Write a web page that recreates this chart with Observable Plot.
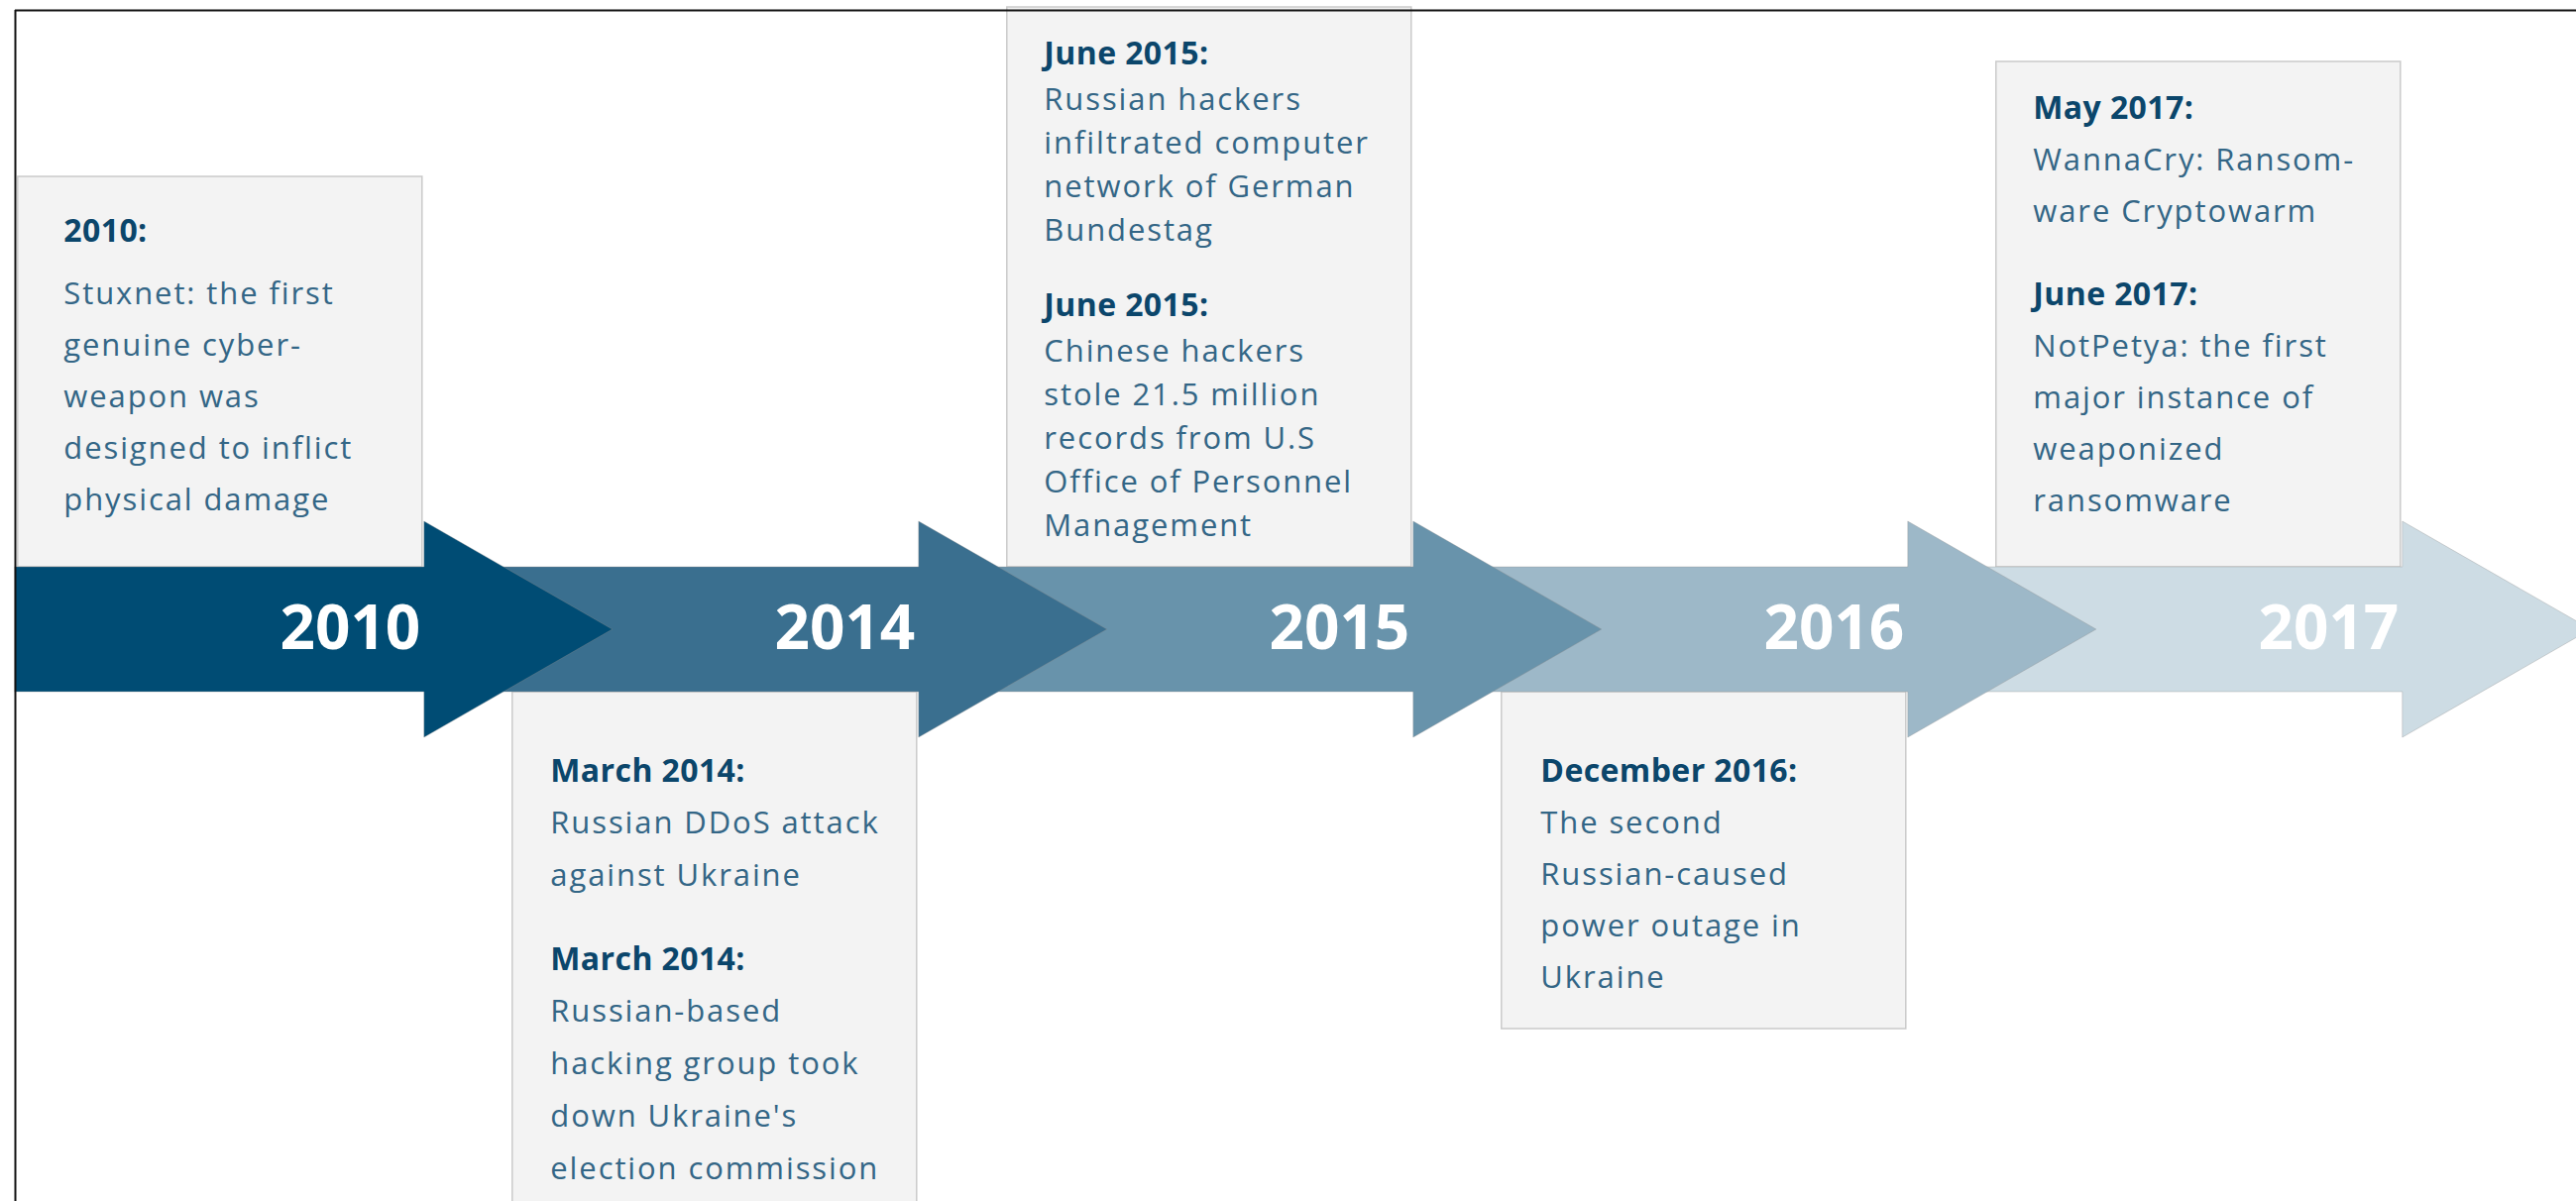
<!DOCTYPE html>
<html>
<head>
<meta charset="utf-8">
<script src="https://cdn.jsdelivr.net/npm/d3@7"></script>
<script src="https://cdn.jsdelivr.net/npm/@observablehq/plot@0.6"></script>
<style>
  html, body { margin: 0; padding: 0; background: #ffffff; overflow: hidden; }
  #chart svg { display: block; }
  #chart g[font-size="31"] text { letter-spacing: 1.9px; }
  #chart g[font-size="32"] text { letter-spacing: 0.4px; }
</style>
</head>
<body>
<div id="chart"></div>
<script>
// ---------- data ----------
const years = ["2010", "2014", "2015", "2016", "2017"];
const boxSide = ["above", "below", "above", "below", "above"];

const eventYear = ["2010", "2014", "2014", "2015", "2015", "2016", "2017", "2017"];
const eventHead = ["2010:", "March 2014:", "March 2014:", "June 2015:", "June 2015:", "December 2016:", "May 2017:", "June 2017:"];
const eventBody = [
  "Stuxnet: the first\ngenuine cyber-\nweapon was\ndesigned to inflict\nphysical damage",
  "Russian DDoS attack\nagainst Ukraine",
  "Russian-based\nhacking group took\ndown Ukraine's\nelection commission",
  "Russian hackers\ninfiltrated computer\nnetwork of German\nBundestag",
  "Chinese hackers\nstole 21.5 million\nrecords from U.S\nOffice of Personnel\nManagement",
  "The second\nRussian-caused\npower outage in\nUkraine",
  "WannaCry: Ransom-\nware Cryptowarm",
  "NotPetya: the first\nmajor instance of\nweaponized\nransomware"
];

// ---------- layout (geometry & style, not data) ----------
const W = 2599, H = 1212;
const U = 499;                       // pixels per timeline step
const xDomain = [71.2 / U, (W + 71.2) / U];
const yDomain = [-(H - 635), 635];   // vertical units = px above the centre line
const frameX = (15 + 71.2) / U;
const frameY = 625;
const bandHalf = 63, headHalf = 109;
const headLen = 190 / U;
const boxW = 408 / U, boxGap = 2 / U;
const paraExtra = 32;
const boxLayout = {
  "2010": {lh: 52, headStep: 63, padTop: 65, padBottom: 58, padLeft: 46},
  "2014": {lh: 53, headStep: 52, padTop: 90, padBottom: 70, padLeft: 38},
  "2015": {lh: 44, headStep: 46, padTop: 57, padBottom: 32, padLeft: 37},
  "2016": {lh: 52, headStep: 52, padTop: 90, padBottom: 42, padLeft: 39},
  "2017": {lh: 52, headStep: 52, padTop: 57, padBottom: 57, padLeft: 37}
};
const palette = ["#004c74", "#3a6f8f", "#6893ab", "#9db8c8", "#cddce4"];

// ---------- derived tables ----------
const arrows = [];
years.forEach((year, i) => {
  const start = i === 0 ? frameX : i;
  const base = i + 1;
  arrows.push(
    {year, order: i, x: start, y1: -bandHalf, y2: bandHalf},
    {year, order: i, x: base, y1: -bandHalf, y2: bandHalf},
    {year, order: i, x: base, y1: -headHalf, y2: headHalf},
    {year, order: i, x: base + headLen, y1: 0, y2: 0}
  );
});
arrows.sort((a, b) => b.order - a.order); // later arrows underneath earlier ones

const boxes = [];
const lines = [];
years.forEach((year, i) => {
  const L = boxLayout[year];
  const base = i + 1;
  const left = base - boxGap - boxW;
  const right = base - boxGap;
  const items = [];
  eventYear.forEach((y, k) => {
    if (y !== year) return;
    items.push({text: eventHead[k], kind: "head"});
    eventBody[k].split("\n").forEach(t => items.push({text: t, kind: "body"}));
  });
  let off = 0;
  items.forEach((it, k) => {
    if (k > 0) {
      const prev = items[k - 1];
      if (it.kind === "body" && prev.kind === "head") off += L.headStep;
      else if (it.kind === "head") off += L.lh + paraExtra;
      else off += L.lh;
    }
    it.off = off;
  });
  const span = off;
  let first, top, bottom;
  if (boxSide[i] === "above") {
    first = bandHalf + L.padBottom + span;
    top = first + L.padTop;
    bottom = bandHalf;
  } else {
    first = -bandHalf - L.padTop;
    top = -bandHalf;
    bottom = first - span - L.padBottom;
  }
  boxes.push({year, x1: left, x2: right, y1: bottom, y2: top});
  items.forEach(it => lines.push({year, text: it.text, kind: it.kind, x: left + L.padLeft / U, y: first - it.off}));
});

const yearLabels = years.map((year, i) => ({year, x: i + 1, y: 0}));
const frameV = [{x: frameX, y1: frameY, y2: yDomain[0]}];
const frameH = [{y: frameY, x1: frameX, x2: xDomain[1]}];

// ---------- chart ----------
const chart = Plot.plot({
  width: W,
  height: H,
  margin: 0,
  x: {domain: xDomain, axis: null},
  y: {domain: yDomain, axis: null},
  color: {type: "ordinal", domain: years, range: palette},
  style: {fontFamily: "'Open Sans', 'Noto Sans', sans-serif", background: "#ffffff"},
  marks: [
    Plot.rect(boxes, {x1: "x1", x2: "x2", y1: "y1", y2: "y2", fill: "#f3f3f3", stroke: "#cacaca", strokeWidth: 1.5}),
    Plot.area(arrows, {x1: "x", y1: "y1", y2: "y2", z: "year", fill: "year", curve: "linear",
      stroke: "#8f8f8f", strokeOpacity: 0.35, strokeWidth: 1}),
    Plot.text(lines.filter(d => d.kind === "head"), {x: "x", y: "y", text: "text", textAnchor: "start", lineAnchor: "bottom",
      fontSize: 32, fontWeight: 700, fill: "#0b466b"}),
    Plot.text(lines.filter(d => d.kind === "body"), {x: "x", y: "y", text: "text", textAnchor: "start", lineAnchor: "bottom",
      fontSize: 31, fontWeight: 400, fill: "#336686"}),
    Plot.text(yearLabels, {x: "x", y: "y", text: "year", dx: -4, textAnchor: "end", lineAnchor: "middle",
      fontSize: 62, fontWeight: 700, fill: "#ffffff"}),
    Plot.ruleX(frameV, {x: "x", y1: "y1", y2: "y2", stroke: "#111111", strokeWidth: 2}),
    Plot.ruleY(frameH, {y: "y", x1: "x1", x2: "x2", stroke: "#111111", strokeWidth: 2})
  ]
});
document.getElementById("chart").appendChild(chart);
</script>
</body>
</html>
